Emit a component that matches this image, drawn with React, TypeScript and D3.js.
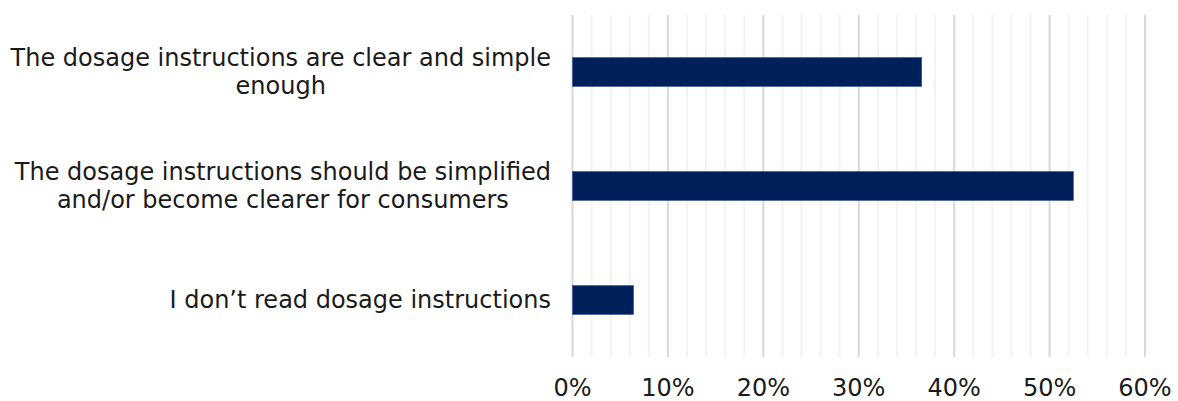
import React, { useEffect, useRef } from "react";
import * as d3 from "d3";

const categories: string[][] = [
  ["The dosage instructions are clear and simple", "enough"],
  ["The dosage instructions should be simplified", "and/or become clearer for consumers"],
  ["I don\u2019t read dosage instructions"],
];
const values: number[] = [0.366, 0.525, 0.064];
const majorTicks: number[] = [0, 0.1, 0.2, 0.3, 0.4, 0.5, 0.6];
const minorTicks: number[] = d3.range(0, 31).map((i) => i * 0.02);

const W = 1178;
const H = 401;
const FONT = "'DejaVu Sans', Verdana, sans-serif";
const FS = 24;

export default function App() {
  const ref = useRef<SVGSVGElement>(null);
  useEffect(() => {
    const svg = d3.select(ref.current);
    svg.selectAll("*").remove();
    const left = 572.5;
    const right = 1145;
    const top = 15;
    const bottom = 357;
    const x = d3.scaleLinear().domain([0, 0.6]).range([left, right]);
    const y = d3
      .scaleBand<number>()
      .domain(d3.range(categories.length))
      .range([top, bottom])
      .paddingInner(0.746)
      .paddingOuter(0.373);

    svg
      .append("g")
      .selectAll("line")
      .data(minorTicks)
      .join("line")
      .attr("x1", (d) => x(d))
      .attr("x2", (d) => x(d))
      .attr("y1", top)
      .attr("y2", bottom)
      .attr("stroke", "#f2f2f2")
      .attr("stroke-width", 2);

    svg
      .append("g")
      .selectAll("line")
      .data(majorTicks)
      .join("line")
      .attr("x1", (d) => x(d))
      .attr("x2", (d) => x(d))
      .attr("y1", top)
      .attr("y2", bottom)
      .attr("stroke", "#d9d9d9")
      .attr("stroke-width", 2);

    svg
      .append("g")
      .selectAll("rect")
      .data(values)
      .join("rect")
      .attr("x", x(0))
      .attr("y", (_, i) => y(i)!)
      .attr("width", (d) => x(d) - x(0))
      .attr("height", y.bandwidth())
      .attr("fill", "#00205b")
      .attr("stroke", "#3a5590")
      .attr("stroke-width", 0.6);

    svg
      .append("g")
      .selectAll("text")
      .data(majorTicks)
      .join("text")
      .attr("x", (d) => x(d))
      .attr("y", 388)
      .attr("text-anchor", "middle")
      .attr("dominant-baseline", "central")
      .attr("font-family", FONT)
      .attr("font-size", FS)
      .attr("fill", "#1a1a1a")
      .text((d) => d3.format(".0%")(d));

    const labelRight = 551;
    const lh = 28;
    categories.forEach((lines, i) => {
      const cy = y(i)! + y.bandwidth() / 2;
      const g = svg.append("g");
      const texts = lines.map((l, j) =>
        g
          .append("text")
          .attr("y", cy + (j - (lines.length - 1) / 2) * lh)
          .attr("dominant-baseline", "central")
          .attr("text-anchor", "middle")
          .attr("font-family", FONT)
          .attr("font-size", FS)
          .attr("fill", "#1a1a1a")
          .text(l)
      );
      const widths = texts.map((t) => (t.node() as SVGTextElement).getComputedTextLength());
      const maxW = Math.max(...widths);
      texts.forEach((t) => t.attr("x", labelRight - maxW / 2));
    });
  }, []);
  return (
    <svg
      ref={ref}
      width={W}
      height={H}
      style={{ position: "absolute", left: 0, top: 0, background: "#fff" }}
    />
  );
}
